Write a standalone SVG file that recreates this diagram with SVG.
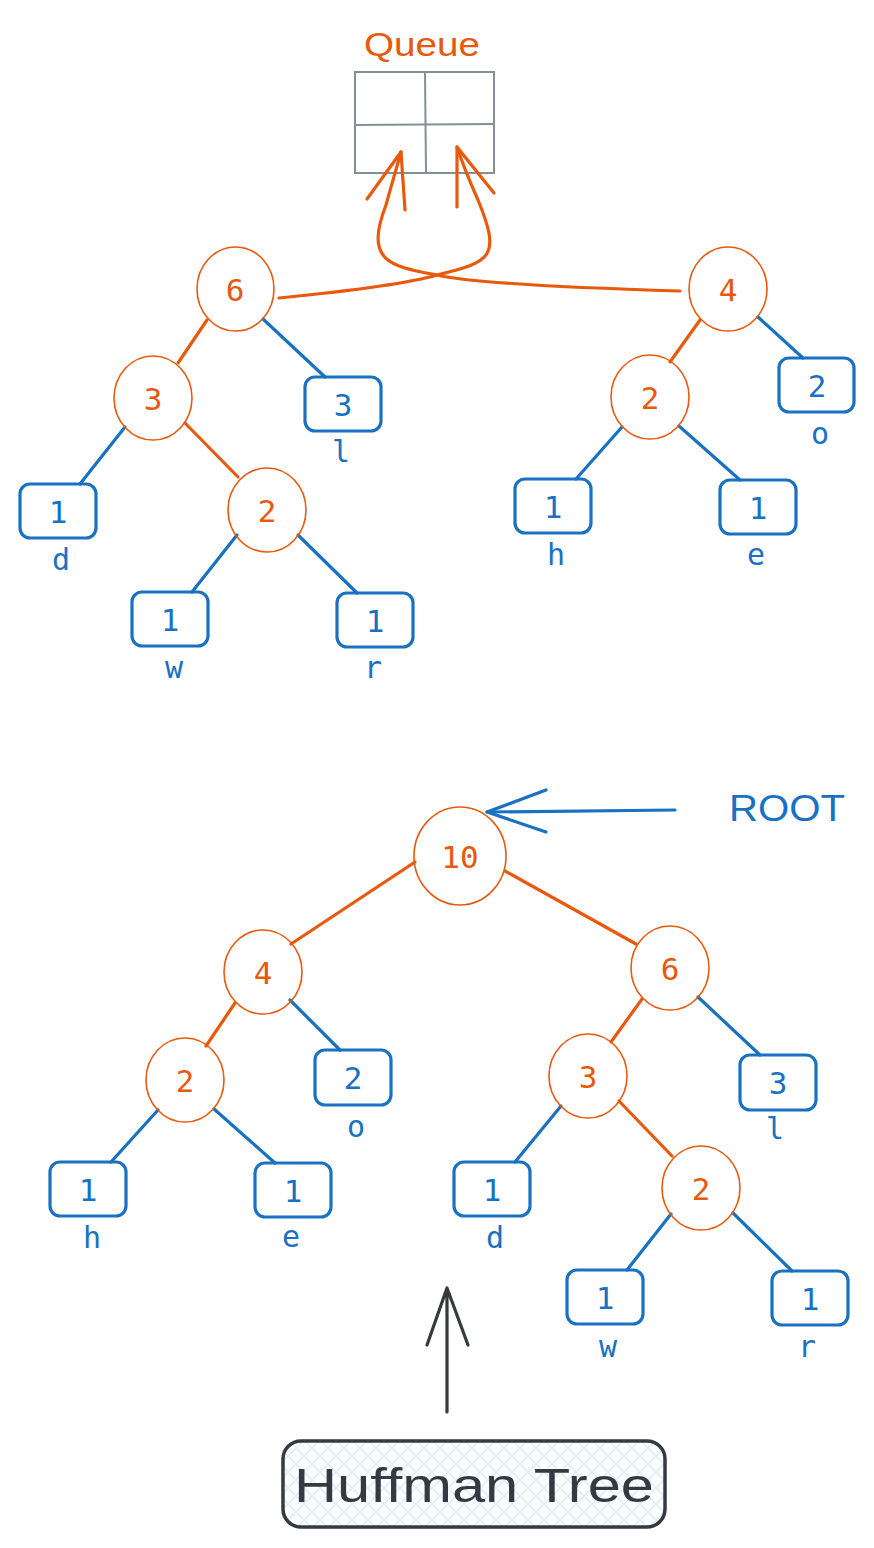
<svg xmlns="http://www.w3.org/2000/svg" width="874" height="1548" viewBox="0 0 874 1548">
<defs>
<pattern id="hatch" patternUnits="userSpaceOnUse" width="16" height="16">
<path d="M0,0 L16,16 M16,0 L0,16" stroke="#a5d8ff" stroke-width="1.2" opacity="0.55"/>
</pattern>
<style>
.on{fill:none;stroke:#e8590c;stroke-width:1.6}
.lf{fill:none;stroke:#1971c2;stroke-width:3.2}
.ot{fill:#e8590c;font-family:"DejaVu Sans Mono",monospace;font-size:31px;text-anchor:middle;dominant-baseline:central}
.bt{fill:#1971c2;font-family:"DejaVu Sans Mono",monospace;font-size:31px;text-anchor:middle;dominant-baseline:central}
.lb{fill:#1971c2;font-family:"DejaVu Sans Mono",monospace;font-size:30px;text-anchor:middle}
.eo{fill:none;stroke:#e8590c;stroke-width:3.2;stroke-linecap:round;stroke-linejoin:round}
.eb{fill:none;stroke:#1971c2;stroke-width:3.2;stroke-linecap:round;stroke-linejoin:round}
.hand{font-family:"Comic Sans MS","Liberation Sans",sans-serif}
</style>
</defs>
<rect width="874" height="1548" fill="#ffffff"/>

<!-- Queue -->
<g id="queue">
<text x="422" y="56" class="hand" fill="#e8590c" font-size="34" text-anchor="middle" textLength="116" lengthAdjust="spacingAndGlyphs">Queue</text>
<rect x="355" y="72" width="139" height="101" fill="none" stroke="#868e96" stroke-width="2"/>
<line x1="355" y1="125" x2="494" y2="124" stroke="#868e96" stroke-width="2"/>
<line x1="425" y1="72" x2="426" y2="173" stroke="#868e96" stroke-width="2"/>
</g>

<!-- connectors -->
<g id="connectors">
<path class="eo" d="M680,291 C580,288 470,283 437,275 C390,266 364,262 386,205 C390,190 396,170 401,152"/>
<path class="eo" d="M367,199 L401,152 L405,210"/>
<path class="eo" d="M279,298 C360,290 410,283 437,275 C490,262 502,258 478,200 C470,182 463,165 457,147"/>
<path class="eo" d="M457,207 L457,147 L494,193"/>

<!-- top left tree -->
<line class="eo" x1="207" y1="320" x2="178" y2="363"/>
<line class="eb" x1="263" y1="319" x2="325" y2="377"/>
<line class="eb" x1="125" y1="427" x2="80" y2="484"/>
<line class="eo" x1="185" y1="423" x2="238" y2="477"/>
<line class="eb" x1="237" y1="535" x2="192" y2="592"/>
<line class="eb" x1="298" y1="535" x2="357" y2="593"/>

<!-- top right tree -->
<line class="eo" x1="700" y1="320" x2="670" y2="362"/>
<line class="eb" x1="758" y1="317" x2="803" y2="358"/>
<line class="eb" x1="622" y1="427" x2="576" y2="479"/>
<line class="eb" x1="679" y1="426" x2="740" y2="480"/>

<!-- bottom tree -->
<line class="eo" x1="415" y1="862" x2="291" y2="944"/>
<line class="eo" x1="505" y1="871" x2="636" y2="944"/>
<line class="eo" x1="235" y1="1003" x2="206" y2="1046"/>
<line class="eb" x1="290" y1="1000" x2="340" y2="1050"/>
<line class="eb" x1="158" y1="1110" x2="111" y2="1162"/>
<line class="eb" x1="214" y1="1109" x2="275" y2="1163"/>
<line class="eo" x1="642" y1="999" x2="611" y2="1042"/>
<line class="eb" x1="698" y1="997" x2="760" y2="1055"/>
<line class="eb" x1="561" y1="1106" x2="515" y2="1162"/>
<line class="eo" x1="619" y1="1101" x2="672" y2="1156"/>
<line class="eb" x1="671" y1="1214" x2="627" y2="1270"/>
<line class="eb" x1="733" y1="1213" x2="792" y2="1271"/>

<!-- ROOT arrow -->
<path class="eb" d="M675,810 L487,812"/>
<path class="eb" d="M546,790 L487,812 L546,832"/>

<!-- Huffman arrow -->
<path d="M447,1412 L447,1288 M427,1345 L447,1288 L468,1345" fill="none" stroke="#343a40" stroke-width="3.2" stroke-linecap="round" stroke-linejoin="round"/>
</g>

<!-- top left tree nodes -->
<g id="t6"><ellipse class="on" cx="235.5" cy="289" rx="38.5" ry="42"/><text class="ot" x="235" y="290">6</text></g>
<g id="t3"><ellipse class="on" cx="153" cy="398" rx="39" ry="42"/><text class="ot" x="153" y="399">3</text></g>
<g id="t2a"><ellipse class="on" cx="267" cy="510" rx="39" ry="42"/><text class="ot" x="267" y="511">2</text></g>
<g id="tl"><rect class="lf" x="305" y="377" width="76" height="54" rx="10"/><text class="bt" x="343" y="405">3</text><text class="lb" x="341" y="462">l</text></g>
<g id="td"><rect class="lf" x="20" y="484" width="76" height="54" rx="10"/><text class="bt" x="58" y="512">1</text><text class="lb" x="61" y="570">d</text></g>
<g id="tw"><rect class="lf" x="132" y="592" width="76" height="54" rx="10"/><text class="bt" x="170" y="620">1</text><text class="lb" x="174" y="678">w</text></g>
<g id="tr"><rect class="lf" x="337" y="593" width="76" height="54" rx="10"/><text class="bt" x="375" y="621">1</text><text class="lb" x="373" y="678">r</text></g>

<!-- top right tree nodes -->
<g id="t4"><ellipse class="on" cx="728" cy="289" rx="39" ry="42"/><text class="ot" x="728" y="290">4</text></g>
<g id="t2b"><ellipse class="on" cx="650" cy="397" rx="39" ry="42"/><text class="ot" x="650" y="398">2</text></g>
<g id="to"><rect class="lf" x="779" y="358" width="75" height="54" rx="10"/><text class="bt" x="817" y="386">2</text><text class="lb" x="820" y="444">o</text></g>
<g id="th"><rect class="lf" x="515" y="479" width="76" height="54" rx="10"/><text class="bt" x="553" y="507">1</text><text class="lb" x="556" y="565">h</text></g>
<g id="te"><rect class="lf" x="720" y="480" width="76" height="54" rx="10"/><text class="bt" x="758" y="508">1</text><text class="lb" x="756" y="565">e</text></g>

<!-- bottom tree nodes -->
<g id="b10"><ellipse class="on" cx="460" cy="856" rx="46" ry="49"/><text class="ot" x="460" y="857">10</text></g>
<g id="root-label"><text x="787" y="821" class="hand" fill="#1971c2" font-size="37" text-anchor="middle" textLength="116" lengthAdjust="spacingAndGlyphs">ROOT</text></g>
<g id="b4"><ellipse class="on" cx="263" cy="972" rx="39" ry="42"/><text class="ot" x="263" y="973">4</text></g>
<g id="b2a"><ellipse class="on" cx="185" cy="1080" rx="39" ry="42"/><text class="ot" x="185" y="1081">2</text></g>
<g id="bo"><rect class="lf" x="315" y="1050" width="76" height="55" rx="10"/><text class="bt" x="353" y="1078">2</text><text class="lb" x="356" y="1137">o</text></g>
<g id="bh"><rect class="lf" x="50" y="1162" width="76" height="54" rx="10"/><text class="bt" x="88" y="1190">1</text><text class="lb" x="92" y="1248">h</text></g>
<g id="be"><rect class="lf" x="255" y="1163" width="76" height="54" rx="10"/><text class="bt" x="293" y="1191">1</text><text class="lb" x="291" y="1247">e</text></g>
<g id="b6"><ellipse class="on" cx="670" cy="968" rx="39" ry="42"/><text class="ot" x="670" y="969">6</text></g>
<g id="b3"><ellipse class="on" cx="588" cy="1076" rx="39" ry="42"/><text class="ot" x="588" y="1077">3</text></g>
<g id="bl"><rect class="lf" x="740" y="1055" width="76" height="55" rx="10"/><text class="bt" x="778" y="1083">3</text><text class="lb" x="775" y="1139">l</text></g>
<g id="bd"><rect class="lf" x="454" y="1162" width="76" height="54" rx="10"/><text class="bt" x="492" y="1190">1</text><text class="lb" x="495" y="1248">d</text></g>
<g id="b2b"><ellipse class="on" cx="701" cy="1188" rx="39" ry="42"/><text class="ot" x="701" y="1189">2</text></g>
<g id="bw"><rect class="lf" x="567" y="1270" width="76" height="54" rx="10"/><text class="bt" x="605" y="1298">1</text><text class="lb" x="608" y="1357">w</text></g>
<g id="br"><rect class="lf" x="772" y="1271" width="76" height="54" rx="10"/><text class="bt" x="810" y="1299">1</text><text class="lb" x="807" y="1357">r</text></g>

<!-- Huffman Tree label -->
<g id="huffman">
<rect x="283" y="1441" width="382" height="86" rx="18" fill="url(#hatch)" stroke="#343a40" stroke-width="3.5"/>
<text x="474" y="1502" class="hand" fill="#343a40" font-size="48" text-anchor="middle" textLength="360" lengthAdjust="spacingAndGlyphs">Huffman Tree</text>
</g>
</svg>
